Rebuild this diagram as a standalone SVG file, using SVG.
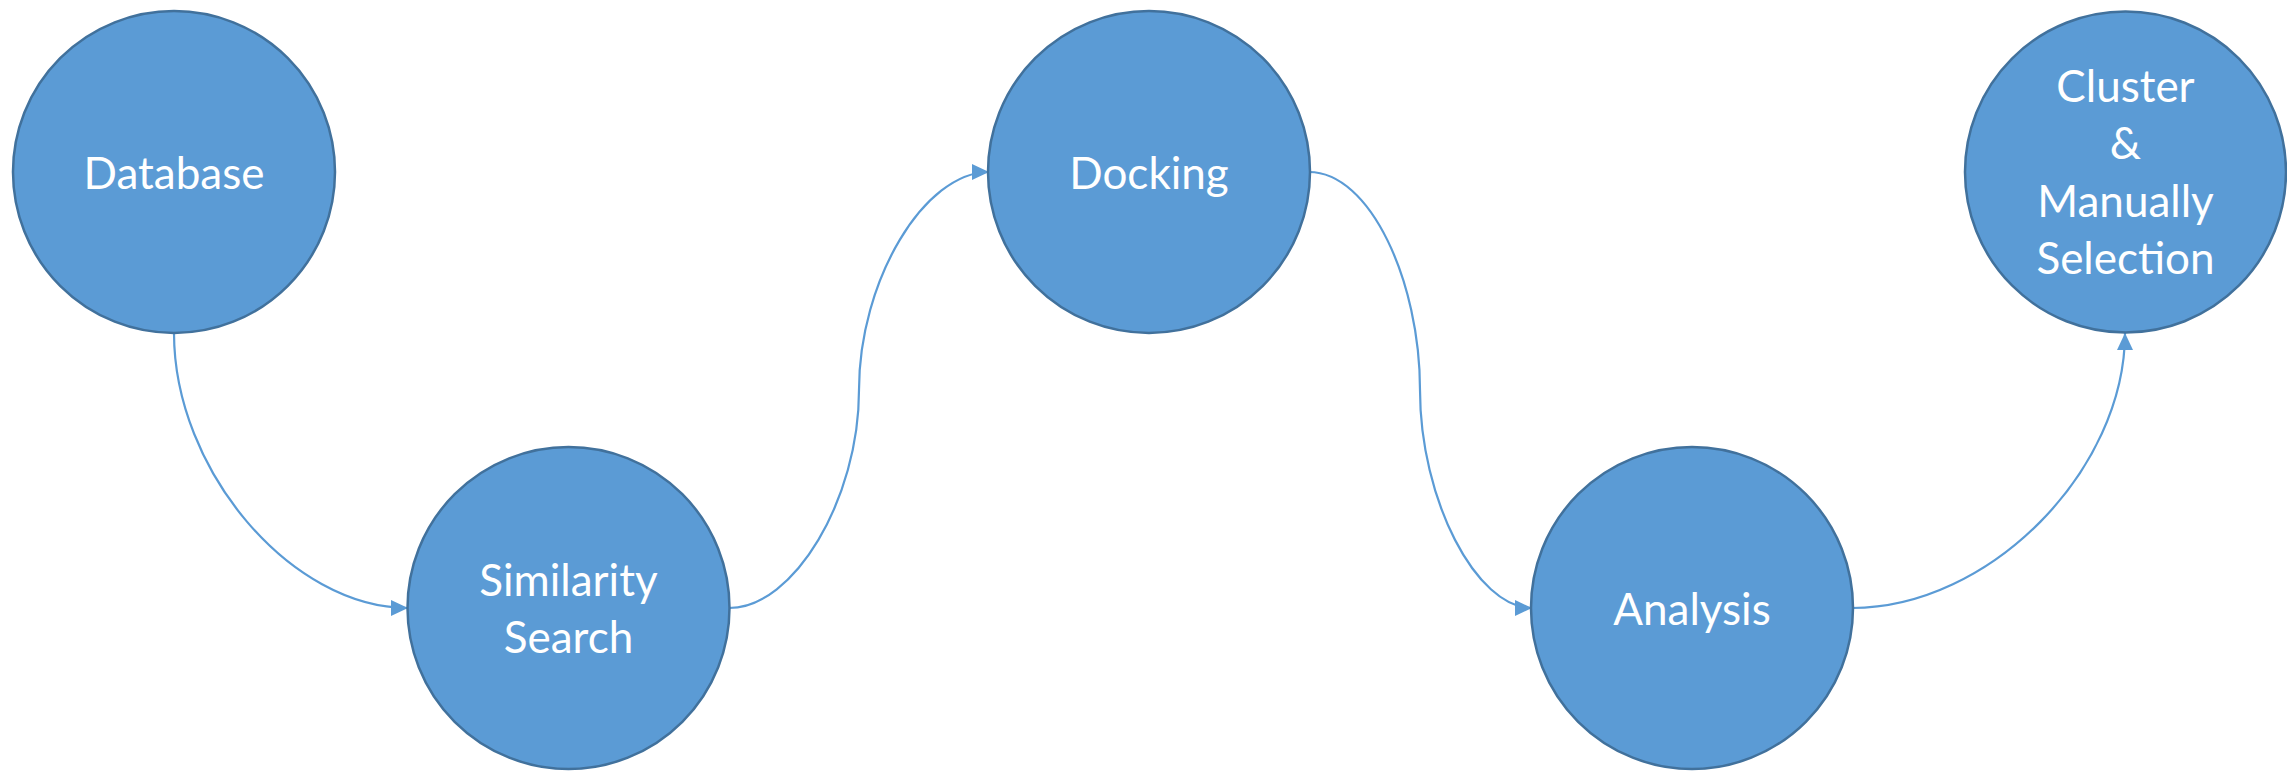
<svg xmlns="http://www.w3.org/2000/svg" width="2287" height="771" viewBox="0 0 2287 771">
<style>
.node circle{fill:#5B9BD5;stroke:#41719C;stroke-width:2.5}
.node text{fill:#FFFFFF;font-family:Lato,"Open Sans",sans-serif;font-size:44px;text-anchor:middle}
.conn path{fill:none;stroke:#5B9BD5;stroke-width:2.2}
</style>
<defs>
<marker id="arr" markerUnits="userSpaceOnUse" markerWidth="18" markerHeight="18" viewBox="0 0 18 18" refX="17" refY="9" orient="auto">
<path d="M0,1 L17,9 L0,17 Z" fill="#5B9BD5"/>
</marker>
</defs>
<g class="conn" id="connectors">
<path d="M174,333 C174,470 291,608 408,608" marker-end="url(#arr)"/>
<path d="M729,608 C794,608 859,499 859,390 C859,281 924,172 989,172" marker-end="url(#arr)"/>
<path d="M1309,172 C1370,172 1420,281 1420,390 C1420,499 1476,608 1532,608" marker-end="url(#arr)"/>
<path d="M1852,608 C1990,608 2125,470 2125,333" marker-end="url(#arr)"/>
</g>
<g class="node" id="database">
<circle cx="174" cy="172" r="161"/>
<text x="174" y="189">Database</text>
</g>
<g class="node" id="similarity">
<circle cx="568.5" cy="608" r="161"/>
<text x="568.5" y="596">Similarity</text>
<text x="568.5" y="653">Search</text>
</g>
<g class="node" id="docking">
<circle cx="1149" cy="172" r="161"/>
<text x="1149" y="189">Docking</text>
</g>
<g class="node" id="analysis">
<circle cx="1692" cy="608" r="161"/>
<text x="1692" y="625">Analysis</text>
</g>
<g class="node" id="cluster">
<circle cx="2125.5" cy="172" r="160.5"/>
<text x="2125.5" y="102">Cluster</text>
<text x="2125.5" y="159">&amp;</text>
<text x="2125.5" y="217">Manually</text>
<text x="2125.5" y="274">Selection</text>
</g>
</svg>
